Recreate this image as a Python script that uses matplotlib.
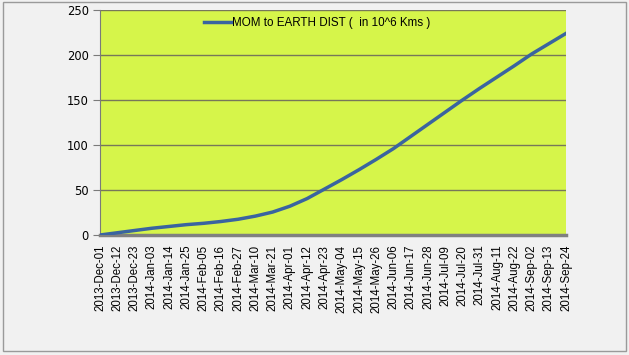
# MOM to Earth distance chart
import pandas as pd
import matplotlib.pyplot as plt
import matplotlib.dates as mdates
from matplotlib.patches import Rectangle

# Data (every 11 days)
dates = pd.date_range('2013-12-01', '2014-09-24', freq='11D')
dist = [0, 2.5, 5, 7.5, 9.5, 11.5, 13, 15, 17.5, 21, 25.5, 32, 40.5, 51,
        61.5, 72.5, 84, 96, 109.5, 123, 136.5, 150, 163, 175.5, 188, 201,
        212.5, 224]
yticks = [0, 50, 100, 150, 200, 250]
series_label = 'MOM to EARTH DIST (  in 10^6 Kms )'

fig = plt.figure(figsize=(6.29, 3.55), dpi=100, facecolor='#f1f1f1')
ax = fig.add_axes([0.159, 0.338, 0.741, 0.634])
ax.set_facecolor('#d6f54a')

# figure border
fig.patches.append(Rectangle((0.004, 0.012), 0.992, 0.982, transform=fig.transFigure,
                             fill=False, edgecolor='#9a9a9a', linewidth=1))

ax.plot(dates, dist, color='#3a64a0', linewidth=2.5, label=series_label, zorder=3)

ax.set_xlim(dates[0], dates[-1])
ax.set_ylim(0, 250)
ax.set_yticks(yticks)
ax.set_xticks(dates)
ax.xaxis.set_major_formatter(mdates.DateFormatter('%Y-%b-%d'))
plt.setp(ax.get_xticklabels(), rotation=90, fontsize=8.3, family='Liberation Sans')
plt.setp(ax.get_yticklabels(), fontsize=8.3)

ax.grid(axis='y', color='#77775a', linewidth=1)
ax.tick_params(axis='x', length=0, pad=7)
ax.tick_params(axis='y', length=5, color='#7a7a7a', pad=3)
for s in ['top', 'right']:
    ax.spines[s].set_visible(False)
ax.spines['left'].set_color('#7a7a7a')
ax.spines['bottom'].set_color('#808080')
ax.spines['bottom'].set_linewidth(2.5)

leg = ax.legend(loc='upper left', bbox_to_anchor=(0.2, 1.015), frameon=False,
                prop={'family': 'Liberation Sans', 'size': 8.4}, handlelength=2.3,
                handletextpad=0.1)

plt.savefig('out.png', dpi=100, facecolor=fig.get_facecolor())
